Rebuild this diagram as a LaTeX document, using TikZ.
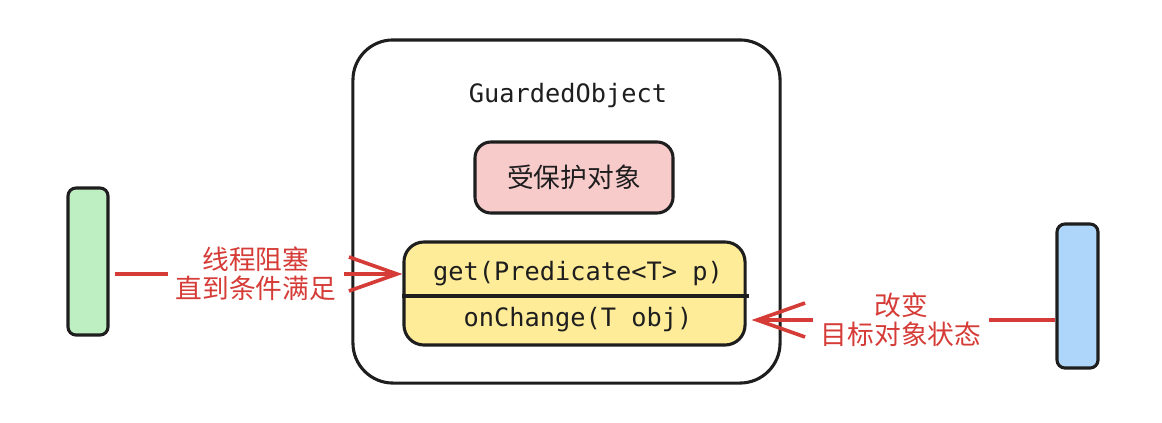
\documentclass[tikz,border=0pt]{standalone}
\usepackage{fontspec}
\setmonofont{DejaVu Sans Mono}
\newfontfamily\cjk{Noto Sans CJK SC}
\usetikzlibrary{arrows.meta,positioning}
\definecolor{inkdark}{HTML}{1E1E1E}
\definecolor{inkred}{HTML}{D63C37}
\definecolor{pinkfill}{HTML}{F8CBCB}
\definecolor{yellowfill}{HTML}{FFEC99}
\definecolor{greenfill}{HTML}{BDEFC2}
\definecolor{bluefill}{HTML}{AED6FA}
\tikzset{
  frame/.style={draw=inkdark, line width=2.2pt, rounded corners=1cm, inner sep=0pt},
  objbox/.style={draw=inkdark, fill=pinkfill, line width=2.2pt, rounded corners=0.4cm, inner sep=0pt, font=\cjk\fontsize{19}{21}\selectfont, text=inkdark},
  methodbox/.style={draw=inkdark, fill=yellowfill, line width=2.2pt, rounded corners=0.5cm, inner sep=0pt},
  methodrow/.style={inner sep=0pt, font=\ttfamily\fontsize{18}{21}\selectfont, text=inkdark},
  actor/.style={draw=inkdark, line width=2.2pt, rounded corners=0.2cm, inner sep=0pt},
  rule/.style={draw=inkdark, line width=2.2pt},
  redarrow/.style={-{Straight Barb[length=1.2cm,width=0.85cm]}, draw=inkred, line width=2.6pt},
  lbl/.style={fill=white, text=inkred, align=center, inner sep=0.2cm, font=\cjk\fontsize{19}{20.5}\selectfont}
}
\begin{document}
\begin{tikzpicture}[x=0.025cm, y=-0.025cm]
\useasboundingbox (0,0) rectangle (1162,422);
% container
\node[frame, minimum width=10.675cm, minimum height=8.575cm] (guard) at (566.5,211.5) {};
\node[methodrow] (title) at (568,96) {GuardedObject};
\node[objbox, minimum width=4.95cm, minimum height=1.775cm] (obj) at (574,177.5) {受保护对象};
% methods
\node[methodbox, minimum width=8.525cm, minimum height=2.575cm] (methods) at (574.5,293.5) {};
\node[methodrow] (get) at (578,274) {get(Predicate<T> p)};
\node[methodrow] (change) at (578,320) {onChange(T obj)};
\coordinate (split) at (574.5,296);
\draw[rule] (methods.west |- split) -- ([xshift=0.05cm]methods.east |- split);
% threads
\node[actor, fill=greenfill, minimum width=1cm, minimum height=3.675cm] (waiter) at (88,261.5) {};
\node[actor, fill=bluefill, minimum width=1.025cm, minimum height=3.6cm] (notifier) at (1077.5,296) {};
\draw[redarrow, shorten <=0.125cm] (waiter.east |- get) -- node[lbl] {线程阻塞\\直到条件满足} (methods.west |- get);
\draw[redarrow, shorten >=0.125cm] (notifier.west |- change) -- node[lbl] {改变\\目标对象状态} (methods.east |- change);
\end{tikzpicture}
\end{document}
